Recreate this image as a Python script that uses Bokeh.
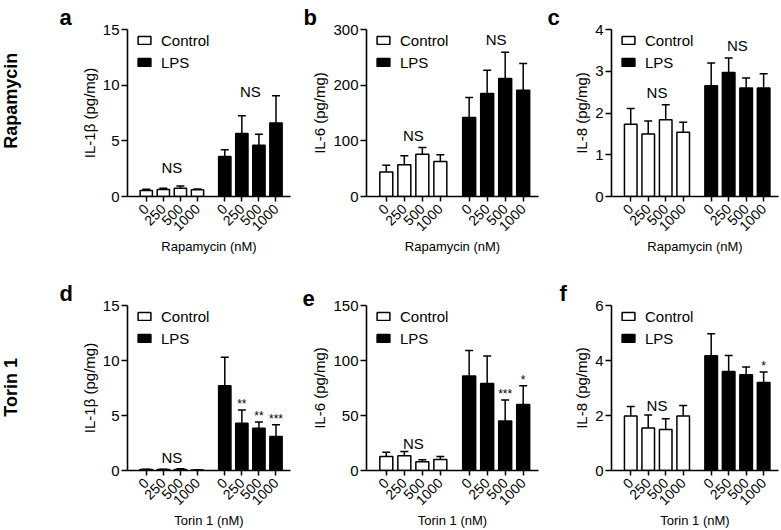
from math import pi
from bokeh.plotting import figure
from bokeh.models import (FixedTicker, Whisker, TeeHead, ColumnDataSource, Legend,
                          LegendItem, Title)
from bokeh.layouts import column, row
from bokeh.embed import file_html
from bokeh.resources import INLINE
from bokeh.core.properties import value

FONT = "Liberation Sans"

# ---------------- data ----------------
doses = ["0", "250", "500", "1000"]

a_ctrl = [0.55, 0.62, 0.75, 0.60]
a_ctrl_err = [0.10, 0.12, 0.20, 0.07]
a_lps = [3.6, 5.65, 4.6, 6.6]
a_lps_err = [0.6, 1.6, 1.0, 2.45]

b_ctrl = [44, 57, 76, 63]
b_ctrl_err = [12, 16, 12, 12]
b_lps = [142, 185, 212, 191]
b_lps_err = [36, 42, 47, 48]

c_ctrl = [1.73, 1.50, 1.84, 1.54]
c_ctrl_err = [0.38, 0.31, 0.36, 0.24]
c_lps = [2.65, 2.97, 2.60, 2.60]
c_lps_err = [0.55, 0.35, 0.24, 0.34]

d_ctrl = [0.08, 0.08, 0.10, 0.05]
d_ctrl_err = [0.03, 0.04, 0.05, 0.02]
d_lps = [7.7, 4.3, 3.85, 3.1]
d_lps_err = [2.6, 1.2, 0.55, 1.05]

e_ctrl = [12.7, 13.3, 7.9, 10.0]
e_ctrl_err = [4.0, 4.0, 1.8, 2.7]
e_lps = [86, 79, 45, 60]
e_lps_err = [23, 25, 19, 17]

f_ctrl = [1.98, 1.55, 1.49, 1.98]
f_ctrl_err = [0.35, 0.47, 0.39, 0.38]
f_lps = [4.17, 3.60, 3.48, 3.20]
f_lps_err = [0.80, 0.58, 0.28, 0.38]

d_stars = ["", "**", "**", "***"]
e_stars = ["", "", "***", "*"]
f_stars = ["", "", "", "*"]

# annotation heights (data units) for the "NS" labels: (control group, LPS group)
a_ns = (2.6, 9.4)
b_ns = (110, 282)
c_ns = (2.5, 3.62)
d_ns = (1.2, None)
e_ns = (25, None)
f_ns = (2.36, None)

row_titles = ["Rapamycin", "Torin 1"]

# ---------------- layout ----------------
CTRL_X = [0, 1, 2, 3]
LPS_X = [4.6, 5.6, 6.6, 7.6]
BAR_W = 0.72
X0, X1 = -1.1, 8.45


def panel(width, bl, br, bt, bb, frame_h, ymax, yticks, ylabel, xlabel,
          ctrl, ctrl_err, lps, lps_err, ns, stars, letter, letter_dx):
    height = bt + frame_h + bb
    p = figure(width=width, height=height, x_range=(X0, X1), y_range=(0, ymax),
               output_backend="svg", toolbar_location=None,
               min_border_left=bl, min_border_right=br, min_border_top=bt,
               min_border_bottom=bb)
    p.outline_line_color = None
    p.xgrid.visible = False
    p.ygrid.visible = False
    p.background_fill_color = None
    p.border_fill_color = None

    src_c = ColumnDataSource(dict(x=CTRL_X, top=ctrl, up=[v + e for v, e in zip(ctrl, ctrl_err)]))
    src_l = ColumnDataSource(dict(x=LPS_X, top=lps, up=[v + e for v, e in zip(lps, lps_err)],
                                  star=stars if stars else [""] * 4))

    rc = p.vbar(x="x", top="top", width=BAR_W, source=src_c, fill_color="white",
                line_color="black", line_width=1.5)
    rl = p.vbar(x="x", top="top", width=BAR_W, source=src_l, fill_color="black",
                line_color="black", line_width=1.5)

    for src in (src_c, src_l):
        w = Whisker(base="x", lower="top", upper="up", source=src, dimension="height",
                    line_color="black", line_width=1.5,
                    upper_head=TeeHead(size=8, line_color="black", line_width=1.5),
                    lower_head=None)
        p.add_layout(w)

    if stars:
        p.text(x="x", y="up", text="star", source=src_l, text_align="center",
               text_baseline="bottom", y_offset=1, text_font=value(FONT),
               text_font_size="12px", text_color="black")

    # NS labels
    if ns[0] is not None:
        p.text(x=[sum(CTRL_X) / 4], y=[ns[0]], text=["NS"], text_align="center",
               text_baseline="middle", text_font=value(FONT), text_font_size="15px",
               text_color="black")
    if ns[1] is not None:
        p.text(x=[sum(LPS_X) / 4], y=[ns[1]], text=["NS"], text_align="center",
               text_baseline="middle", text_font=value(FONT), text_font_size="15px",
               text_color="black")

    # axes
    xa = p.xaxis[0]
    xa.ticker = FixedTicker(ticks=CTRL_X + LPS_X)
    xa.major_label_overrides = {x: lab for x, lab in zip(CTRL_X + LPS_X, doses + doses)}
    xa.major_label_orientation = pi / 4
    xa.minor_tick_line_color = None
    xa.major_tick_in = 0
    xa.major_tick_out = 5
    xa.major_label_standoff = 5
    xa.axis_label = xlabel
    xa.axis_label_standoff = 0
    xa.axis_label_text_font_style = "normal"
    xa.axis_label_text_font = FONT
    xa.axis_label_text_font_size = "13px"
    xa.major_label_text_font = FONT
    xa.major_label_text_font_size = "14px"

    ya = p.yaxis[0]
    ya.ticker = FixedTicker(ticks=yticks)
    ya.minor_tick_line_color = None
    ya.major_tick_in = 0
    ya.major_tick_out = 6
    ya.major_label_standoff = 2
    ya.axis_label = ylabel
    ya.axis_label_standoff = 2
    ya.axis_label_text_font_style = "normal"
    ya.axis_label_text_font = FONT
    ya.axis_label_text_font_size = "15px"
    ya.major_label_text_font = FONT
    ya.major_label_text_font_size = "15px"

    for ax in (xa, ya):
        ax.axis_line_width = 1.6
        ax.axis_line_color = "black"
        ax.major_tick_line_width = 1.5
        ax.major_tick_line_color = "black"
        ax.major_label_text_color = "black"
        ax.axis_label_text_color = "black"

    # legend
    leg = Legend(items=[LegendItem(label="Control", renderers=[rc]),
                        LegendItem(label="LPS", renderers=[rl])],
                 location=(9, frame_h - 2 - 40), margin=0, padding=0, spacing=4,
                 glyph_width=16, glyph_height=10, label_standoff=9, label_height=18,
                 label_text_font=FONT, label_text_font_size="15px",
                 label_text_color="black",
                 border_line_color=None, background_fill_alpha=0)
    p.add_layout(leg)

    # panel letter
    p.add_layout(Title(text=letter, align="left", offset=letter_dx - 5, standoff=0,
                       text_font=FONT, text_font_size="22px", text_font_style="bold",
                       text_color="black"), "above")
    return p


def side_title(text, height, cy):
    s = figure(width=22, height=height, x_range=(0, 22), y_range=(0, height),
               output_backend="svg", toolbar_location=None, min_border=0,
               x_axis_location=None, y_axis_location=None)
    s.outline_line_color = None
    s.xgrid.visible = False
    s.ygrid.visible = False
    s.background_fill_color = None
    s.border_fill_color = None
    s.text(x=[10], y=[height - cy], text=[text], angle=pi / 2, text_align="center",
           text_baseline="middle", text_font=value(FONT), text_font_size="18px",
           text_font_style="bold", text_color="black")
    return s


TOP = dict(bt=29, bb=62, frame_h=167)
BOT = dict(bt=47, bb=60, frame_h=165)
COL_A = dict(width=278, bl=105, br=10)
COL_B = dict(width=245, bl=66, br=7)
COL_C = dict(width=236, bl=66, br=3)

pa = panel(**COL_A, **TOP, ymax=15, yticks=[0, 5, 10, 15], ylabel="IL-1β (pg/mg)",
           xlabel="Rapamycin (nM)", ctrl=a_ctrl, ctrl_err=a_ctrl_err, lps=a_lps,
           lps_err=a_lps_err, ns=a_ns, stars=None, letter="a", letter_dx=-63)
pb = panel(**COL_B, **TOP, ymax=300, yticks=[0, 100, 200, 300], ylabel="IL-6 (pg/mg)",
           xlabel="Rapamycin (nM)", ctrl=b_ctrl, ctrl_err=b_ctrl_err, lps=b_lps,
           lps_err=b_lps_err, ns=b_ns, stars=None, letter="b", letter_dx=-58)
pc = panel(**COL_C, **TOP, ymax=4, yticks=[0, 1, 2, 3, 4], ylabel="IL-8 (pg/mg)",
           xlabel="Rapamycin (nM)", ctrl=c_ctrl, ctrl_err=c_ctrl_err, lps=c_lps,
           lps_err=c_lps_err, ns=c_ns, stars=None, letter="c", letter_dx=-59)
pd_ = panel(**COL_A, **BOT, ymax=15, yticks=[0, 5, 10, 15], ylabel="IL-1β (pg/mg)",
            xlabel="Torin 1 (nM)", ctrl=d_ctrl, ctrl_err=d_ctrl_err, lps=d_lps,
            lps_err=d_lps_err, ns=d_ns, stars=d_stars, letter="d", letter_dx=-63)
pe = panel(**COL_B, **BOT, ymax=150, yticks=[0, 50, 100, 150], ylabel="IL-6 (pg/mg)",
           xlabel="Torin 1 (nM)", ctrl=e_ctrl, ctrl_err=e_ctrl_err, lps=e_lps,
           lps_err=e_lps_err, ns=e_ns, stars=e_stars, letter="e", letter_dx=-59)
pf = panel(**COL_C, **BOT, ymax=6, yticks=[0, 2, 4, 6], ylabel="IL-8 (pg/mg)",
           xlabel="Torin 1 (nM)", ctrl=f_ctrl, ctrl_err=f_ctrl_err, lps=f_lps,
           lps_err=f_lps_err, ns=f_ns, stars=f_stars, letter="f", letter_dx=-47)

top_h = TOP["bt"] + TOP["frame_h"] + TOP["bb"]
bot_h = BOT["bt"] + BOT["frame_h"] + BOT["bb"]
s1 = side_title(row_titles[0], top_h, 110)
s2 = side_title(row_titles[1], bot_h, 393 - top_h)

layout = column(row(s1, pa, pb, pc), row(s2, pd_, pe, pf))
open("out.html", "w").write(file_html(layout, INLINE))
